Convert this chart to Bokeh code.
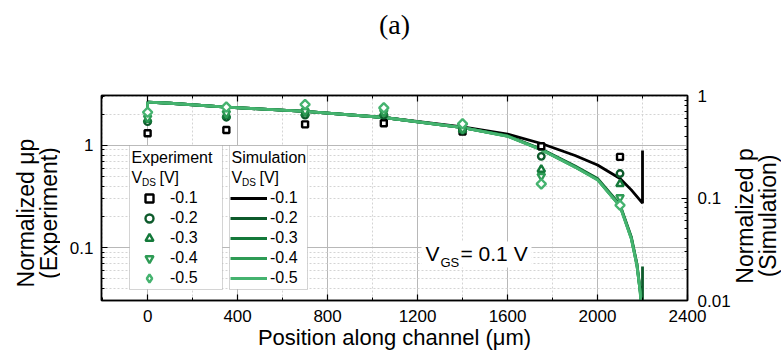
import math
from bokeh.plotting import figure
from bokeh.layouts import row
from bokeh.models import (Range1d, LogAxis, LinearAxis, LogScale, FixedTicker,
                          SingleIntervalTicker, CustomJSTickFormatter, Legend,
                          LegendItem, BoxAnnotation, Label)
from bokeh.embed import file_html
from bokeh.resources import INLINE

# ---------------- data ----------------
positions = [0, 350, 700, 1050, 1400, 1750, 2100]
exp_01 = [1.31, 1.41, 1.60, 1.64, 1.36, 0.98, 0.77]
exp_02 = [1.70, 1.88, 1.97, 1.97, 1.40, 0.78, 0.53]
exp_03 = [1.78, 1.95, 2.05, 2.05, 1.42, 0.58, 0.42]
exp_04 = [1.85, 2.05, 2.15, 2.10, 1.44, 0.50, 0.31]
exp_05 = [2.10, 2.36, 2.50, 2.32, 1.62, 0.42, 0.26]

sim_x_01 = [0, 0, 100, 350, 700, 1050, 1400, 1600, 1750, 1900, 2000, 2100, 2150, 2200, 2200]
sim_01 = [0.72, 0.86, 0.84, 0.77, 0.70, 0.61, 0.495, 0.42, 0.34, 0.26, 0.21, 0.155, 0.12, 0.089, 0.29]

sim_x_02 = [0, 0, 100, 350, 700, 1050, 1400, 1600, 1750, 1900, 2000, 2100, 2150, 2175, 2190, 2200, 2200]
sim_02 = [0.72, 0.86, 0.84, 0.77, 0.70, 0.61, 0.487, 0.405, 0.30, 0.205, 0.155, 0.086, 0.042, 0.023, 0.0125, 0.004, 0.0215]

sim_x_g = [0, 0, 100, 350, 700, 1050, 1400, 1600, 1750, 1900, 2000, 2100, 2150, 2175, 2190, 2200]
sim_03 = [0.72, 0.86, 0.84, 0.77, 0.70, 0.61, 0.486, 0.402, 0.297, 0.202, 0.152, 0.084, 0.041, 0.0225, 0.012, 0.004]
sim_04 = [0.72, 0.86, 0.84, 0.77, 0.70, 0.61, 0.485, 0.401, 0.296, 0.201, 0.151, 0.0835, 0.0405, 0.022, 0.012, 0.004]
sim_05 = [0.72, 0.86, 0.84, 0.77, 0.70, 0.61, 0.485, 0.40, 0.295, 0.20, 0.15, 0.083, 0.040, 0.022, 0.012, 0.005]

vds_labels = ["-0.1", "-0.2", "-0.3", "-0.4", "-0.5"]
colors = ["#000000", "#0d5a2b", "#14793a", "#2e9b55", "#45b36f"]

left_major = [0.1, 1]
left_minor = [0.04, 0.05, 0.06, 0.07, 0.08, 0.09, 0.2, 0.3, 0.4, 0.5, 0.6, 0.7, 0.8, 0.9, 2, 3]
right_major = [0.01, 0.1, 1]
right_minor = [0.02, 0.03, 0.04, 0.05, 0.06, 0.07, 0.08, 0.09,
               0.2, 0.3, 0.4, 0.5, 0.6, 0.7, 0.8, 0.9]

# ---------------- layout (page px; the page has no margin) ----------------
H = 354
LEFT_W, RIGHT_W = 60, 49            # side strips carrying the rotated axis titles
FR_L, FR_T, FR_W, FR_H = 101, 95, 586, 205
MAIN_W = 781 - LEFT_W - RIGHT_W
X0, X1 = -205, 2400
Y0, Y1 = 0.0306, 3.06

def dx(px):
    return X0 + (px - FR_L) / FR_W * (X1 - X0)

def dy(py):
    l0, l1 = math.log10(Y0), math.log10(Y1)
    return 10 ** (l1 - (py - FR_T) / FR_H * (l1 - l0))

FONT = "Liberation Sans"

p = figure(x_range=Range1d(X0, X1), y_range=Range1d(Y0, Y1), y_axis_type="log",
           frame_width=FR_W, frame_height=FR_H,
           min_border_left=FR_L - LEFT_W, min_border_top=FR_T,
           min_border_right=MAIN_W - (FR_L - LEFT_W) - FR_W, min_border_bottom=H - FR_T - FR_H,
           output_backend="svg", toolbar_location=None)
p.outline_line_color = "black"
p.outline_line_width = 1.5
p.background_fill_color = "white"

xt = SingleIntervalTicker(interval=400, num_minor_ticks=2)
p.xaxis.ticker = xt
p.xgrid.ticker = xt
lt = FixedTicker(ticks=left_major, minor_ticks=left_minor)
p.yaxis.ticker = lt
p.ygrid.ticker = lt
fmt = CustomJSTickFormatter(code="return Number(tick.toPrecision(3)).toString();")

def style_axis(ax, label_size="22px"):
    ax.axis_line_color = "black"
    ax.axis_line_width = 1.5
    ax.major_tick_in = 6
    ax.major_tick_out = 0
    ax.minor_tick_in = 3
    ax.minor_tick_out = 0
    ax.major_tick_line_width = 1.2
    ax.major_label_text_font = FONT
    ax.major_label_text_font_size = "17px"
    ax.major_label_text_color = "black"
    ax.axis_label_text_font = FONT
    ax.axis_label_text_font_size = label_size
    ax.axis_label_text_font_style = "normal"
    ax.axis_label_text_color = "black"

xa = p.xaxis[0]
style_axis(xa)
xa.axis_label = "Position along channel (μm)"
xa.major_label_standoff = 9
xa.axis_label_standoff = 0

ya = p.yaxis[0]
style_axis(ya)
ya.formatter = fmt
ya.major_label_standoff = 8

p.extra_y_ranges = {"sim": Range1d(0.01, 1.0)}
p.extra_y_scales = {"sim": LogScale()}
ra = LogAxis(y_range_name="sim", ticker=FixedTicker(ticks=right_major, minor_ticks=right_minor))
style_axis(ra)
ra.formatter = fmt
ra.major_label_standoff = 10
p.add_layout(ra, "right")

# top frame axis: ticks only, carries the panel caption "(a)"
ta = LinearAxis(ticker=xt, formatter=CustomJSTickFormatter(code="return '';"))
style_axis(ta, "28px")
ta.major_label_standoff = 0
ta.axis_label = "(a)"
ta.axis_label_text_font = "Liberation Serif"
ta.axis_label_standoff = 56
p.add_layout(ta, "above")

for g in (p.xgrid[0], p.ygrid[0]):
    g.grid_line_color = "#b8b8b8"
    g.grid_line_width = 1
    g.minor_grid_line_color = "#d4d4d4"
    g.minor_grid_line_dash = "2 2"

# ---------------- simulation lines ----------------
sim_sets = [(sim_x_01, sim_01), (sim_x_02, sim_02), (sim_x_g, sim_03), (sim_x_g, sim_04), (sim_x_g, sim_05)]
sim_r = []
for (xs, ys), c in zip(sim_sets, colors):
    r = p.line(xs, ys, y_range_name="sim", line_color=c, line_width=2.8)
    sim_r.append(r)

# ---------------- experiment markers ----------------
# legend key for the diamond series (legend markers are drawn unrotated); hidden under the points
diamond_key = p.scatter(positions, exp_05, marker="diamond", size=0.1, fill_color="white",
                        line_color=colors[4], line_width=2.4)
exp_sets = [exp_01, exp_02, exp_03, exp_04, exp_05]
markers = ["square", "circle", "triangle", "inverted_triangle", "square"]
sizes = [6, 6.5, 7.5, 7.5, 6.6]
angles = [0, 0, 0, 0, math.pi / 4]
exp_r = []
for ys, c, m, s, a in zip(exp_sets, colors, markers, sizes, angles):
    r = p.scatter(positions, ys, marker=m, size=s, angle=a, fill_color="white",
                  fill_alpha=1, line_color=c, line_width=2.4)
    exp_r.append(r)

# ---------------- legends ----------------
for l, r in [(129, 222), (229, 307)]:
    p.add_layout(BoxAnnotation(left=dx(l), right=dx(r), top=dy(145), bottom=dy(289),
                               fill_color="white", fill_alpha=1, line_color="#707070",
                               line_width=1, level="underlay"))
p.add_layout(BoxAnnotation(left=dx(421), right=dx(531), top=dy(241), bottom=dy(267),
                           fill_color="white", fill_alpha=1, line_alpha=0, level="underlay"))

def txt(fig, x, y, t, size, align="left", angle=0):
    fig.add_layout(Label(x=x, y=y, text=t, text_font=FONT, text_font_size=size,
                         text_align=align, text_baseline="middle", angle=angle,
                         text_color="black"))

for x0, head in ((131, "Experiment"), (231, "Simulation")):
    txt(p, dx(x0), dy(156.5), head, "16px")
    txt(p, dx(x0), dy(177), "V", "16px")
    txt(p, dx(x0 + 10.5), dy(181.5), "DS", "10px")
    txt(p, dx(x0 + 28), dy(177), "[V]", "16px")

leg_common = dict(orientation="vertical", spacing=0, padding=0, margin=0,
                  glyph_height=20, label_height=20, border_line_color=None,
                  background_fill_alpha=0, label_text_font=FONT,
                  label_text_font_size="16px", label_text_color="black")
exp_keys = exp_r[:4] + [diamond_key]
leg_exp = Legend(items=[LegendItem(label=l, renderers=[r]) for l, r in zip(vds_labels, exp_keys)],
                 location=(38, 12), glyph_width=20, label_standoff=11, **leg_common)
leg_sim = Legend(items=[LegendItem(label=l, renderers=[r]) for l, r in zip(vds_labels, sim_r)],
                 location=(129, 12), glyph_width=37, label_standoff=3, **leg_common)
p.add_layout(leg_exp)
p.add_layout(leg_sim)

# ---------------- V_GS annotation ----------------
txt(p, dx(425), dy(253), "V", "21px")
txt(p, dx(440), dy(262), "GS", "13px")
txt(p, dx(460), dy(253), "= 0.1 V", "21px")

# ---------------- side strips with the y-axis titles ----------------
def side_fig(w):
    f = figure(width=w, height=H, x_range=Range1d(0, w), y_range=Range1d(0, H),
               min_border=0, output_backend="svg", toolbar_location=None)
    f.axis.visible = False
    f.grid.visible = False
    f.outline_line_color = None
    return f

lf = side_fig(LEFT_W)
txt(lf, 25, H - 203, "Normalized μp", "23px", align="center", angle=math.pi / 2)
txt(lf, 48, H - 203, "(Experiment)", "23px", align="center", angle=math.pi / 2)

rf = side_fig(RIGHT_W)
txt(rf, 743 - 781 + RIGHT_W, H - 208, "Normalized p", "23px", align="center", angle=math.pi / 2)
txt(rf, 766 - 781 + RIGHT_W, H - 208, "(Simulation)", "23px", align="center", angle=math.pi / 2)

layout = row(lf, p, rf, spacing=0)
open("out.html", "w").write(file_html(layout, INLINE))
